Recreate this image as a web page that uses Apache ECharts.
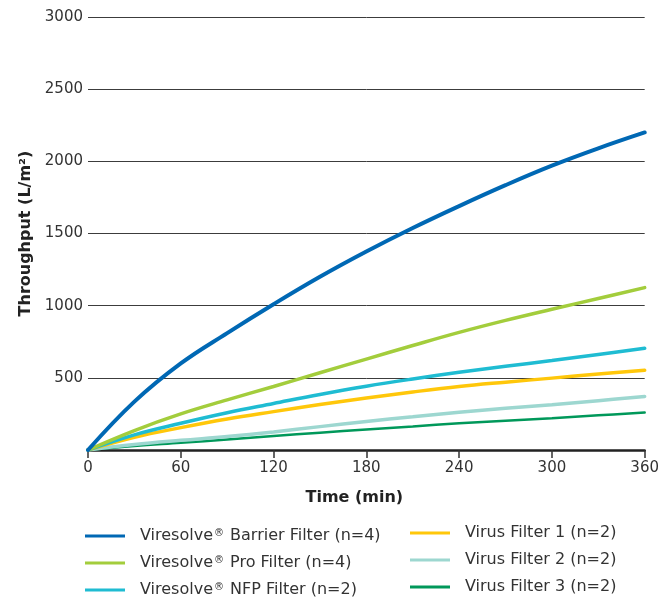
<!DOCTYPE html>
<html>
<head>
<meta charset="utf-8">
<script src="https://cdn.jsdelivr.net/npm/echarts@6/dist/echarts.min.js"></script>
<style>
html,body{margin:0;padding:0;background:#fff;}
#chart{width:662px;height:598px;}
</style>
</head>
<body>
<div id="chart"></div>
<script>
var times = [0, 30, 60, 90, 120, 150, 180, 210, 240, 270, 300, 330, 360];
var barrier = [0, 335, 600, 810, 1010, 1200, 1375, 1538, 1690, 1835, 1970, 2090, 2200];
var pro = [0, 135, 250, 347, 440, 535, 630, 724, 815, 898, 975, 1050, 1125];
var nfp = [0, 105, 185, 258, 322, 385, 442, 492, 538, 580, 620, 662, 705];
var vf1 = [0, 88, 155, 215, 266, 315, 360, 402, 440, 470, 498, 526, 553];
var vf2 = [0, 38, 67, 93, 125, 162, 198, 230, 262, 289, 314, 342, 371];
var vf3 = [0, 28, 50, 73, 97, 120, 142, 163, 185, 203, 220, 240, 259];

var seriesNames = [
  'Viresolve® Barrier Filter (n=4)',
  'Viresolve® Pro Filter (n=4)',
  'Viresolve® NFP Filter (n=2)',
  'Virus Filter 1 (n=2)',
  'Virus Filter 2 (n=2)',
  'Virus Filter 3 (n=2)'
];
var xTicks = [0, 60, 120, 180, 240, 300, 360];
var yTicks = [0, 500, 1000, 1500, 2000, 2500, 3000];

var colors = ['#0068b4', '#a3cd3c', '#1fbcd2', '#ffc70a', '#9dd7d0', '#00985a'];
var widths = [4, 3.5, 3.5, 3.5, 3.5, 2.5];
var allData = [barrier, pro, nfp, vf1, vf2, vf3];

function pairs(arr) { return times.map(function (t, i) { return [t, arr[i]]; }); }

var FONT = 'DejaVu Sans';
var drawOrder = [5, 4, 3, 2, 1, 0];
var series = drawOrder.map(function (i) {
  return {
    name: seriesNames[i],
    type: 'line',
    smooth: 0.4,
    symbol: 'none',
    data: pairs(allData[i]),
    z: 10 - i,
    lineStyle: { color: colors[i], width: widths[i], cap: 'round' },
    itemStyle: { color: colors[i] }
  };
});

function legendFmt(name) {
  if (name.indexOf('Viresolve®') === 0) {
    return '{t|Viresolve}{s|®}{t|' + name.slice('Viresolve®'.length) + '}';
  }
  return '{t|' + name + '}';
}
var legendText = {
  fontFamily: FONT, fontSize: 16, color: '#333',
  padding: [0, 0, 0, 10],
  rich: {
    t: { fontFamily: FONT, fontSize: 16, color: '#333', lineHeight: 16 },
    s: { fontFamily: FONT, fontSize: 10, color: '#333', verticalAlign: 'top', lineHeight: 16, padding: [0, 1, 0, 1] }
  }
};

var chart = echarts.init(document.getElementById('chart'), null, { renderer: 'canvas' });
chart.setOption({
  animation: false,
  backgroundColor: '#fff',
  grid: { left: 88, right: 14, top: 17, bottom: 148, containLabel: false },
  legend: [
    {
      data: seriesNames.slice(0, 3),
      orient: 'vertical', left: 85, top: 528, height: 90, padding: 0,
      itemWidth: 40, itemHeight: 3, itemGap: 11,
      icon: 'rect',
      formatter: legendFmt,
      textStyle: legendText
    },
    {
      data: seriesNames.slice(3, 6),
      orient: 'vertical', left: 410, top: 525, height: 90, padding: 0,
      itemWidth: 40, itemHeight: 3, itemGap: 11,
      icon: 'rect',
      formatter: legendFmt,
      textStyle: legendText
    }
  ],
  xAxis: {
    type: 'value', min: xTicks[0], max: xTicks[xTicks.length - 1], interval: 60,
    name: 'Time (min)', nameLocation: 'middle', nameGap: 40,
    nameTextStyle: { fontFamily: FONT, fontSize: 16, fontWeight: 'bold', color: '#222', padding: [0, 24, 0, 0] },
    axisLine: { show: true, lineStyle: { color: '#222', width: 2.5 } },
    axisTick: { show: true, length: 8, lineStyle: { color: '#333', width: 1.5 } },
    axisLabel: { fontFamily: FONT, fontSize: 15, color: '#333', margin: 11 },
    splitLine: { show: false }
  },
  yAxis: {
    type: 'value', min: yTicks[0], max: yTicks[yTicks.length - 1], interval: 500,
    name: 'Throughput (L/m²)', nameLocation: 'middle', nameGap: 44,
    nameTextStyle: { fontFamily: FONT, fontSize: 16, fontWeight: 'bold', color: '#222' },
    axisLine: { show: false },
    axisTick: { show: false },
    axisLabel: {
      fontFamily: FONT, fontSize: 15, color: '#333', margin: 5,
      formatter: function (v) { return v === 0 ? '' : String(v); }
    },
    splitLine: { show: true, lineStyle: { color: '#3c3c3c', width: 1 } }
  },
  series: series
});
</script>
</body>
</html>
